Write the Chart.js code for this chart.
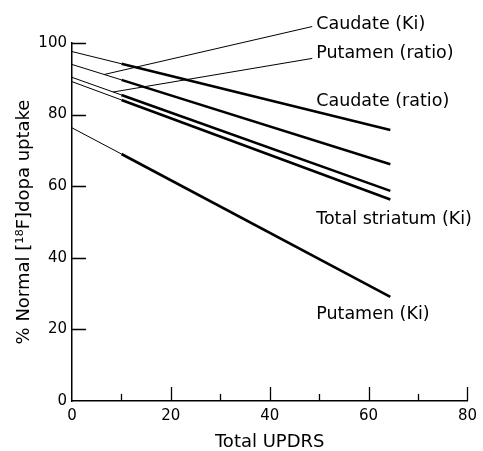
<!DOCTYPE html>
<html>
<head>
<meta charset="utf-8">
<script src="https://cdn.jsdelivr.net/npm/chart.js@4"></script>
<style>
  html, body { margin: 0; padding: 0; background: #fff; }
  #wrap { width: 483px; height: 451px; position: relative; }
</style>
</head>
<body>
<div id="wrap"><canvas id="uptakeChart"></canvas></div>
<script>
// Total UPDRS where each regression line is sampled (start, end of thin part, end)
var updrs = [0, 10, 64.4];

// % normal [18F]dopa uptake
var caudateRatio  = [97.6, 94.2, 75.7];
var caudateKi     = [94.0, 89.7, 66.1];
var putamenRatio  = [90.4, 85.5, 58.7];
var striatumKi    = [89.2, 84.1, 56.3];
var putamenKi     = [76.3, 69.0, 29.1];

var xTicks = [0, 20, 40, 60, 80];
var yTicks = [0, 20, 40, 60, 80, 100];

// leader lines from the label to its line (x, y pairs)
var leaderCaudateKi    = [[6.5, 91.2], [48.6, 104.6]];
var leaderPutamenRatio = [[8.3, 86.3], [48.6, 95.7]];

// text labels: [text, x, y] in data units
var lineLabels = [
    ['Caudate (Ki)', 49.4, 105.3],
    ['Putamen (ratio)', 49.4, 97.2],
    ['Caudate (ratio)', 49.4, 83.6],
    ['Total striatum (Ki)', 49.4, 50.8],
    ['Putamen (Ki)', 49.4, 24.2]
];

var FONT = '"DejaVu Sans", Arial, sans-serif';

function toPoints(ys) {
    return updrs.map(function (x, i) { return { x: x, y: ys[i] }; });
}

function regLine(ys) {
    return {
        data: toPoints(ys),
        borderColor: '#000',
        borderWidth: 2.6,
        pointRadius: 0,
        tension: 0,
        segment: {
            // thin part between 0 and 10, thick beyond
            borderWidth: function (ctx) { return ctx.p0DataIndex === 0 ? 1 : 2.6; }
        }
    };
}

function leader(pts) {
    return {
        data: pts.map(function (p) { return { x: p[0], y: p[1] }; }),
        borderColor: '#000',
        borderWidth: 1,
        pointRadius: 0,
        clip: false
    };
}

// ticks pointing into the plot + line labels
var innerTicks = {
    id: 'innerTicks',
    afterDatasetsDraw: function (chart) {
        var ctx = chart.ctx;
        var xs = chart.scales.x, ys = chart.scales.y;
        var area = chart.chartArea;
        ctx.save();
        ctx.strokeStyle = '#000';
        ctx.lineWidth = 1.3;
        ctx.beginPath();
        for (var v = 10; v <= 80; v += 10) {
            var px = Math.round(xs.getPixelForValue(v)) + 0.5;
            var len = v % 20 === 0 ? 14 : 7;
            ctx.moveTo(px, area.bottom);
            ctx.lineTo(px, area.bottom - len);
        }
        for (var w = 20; w <= 100; w += 20) {
            var py = Math.round(ys.getPixelForValue(w)) + 0.5;
            ctx.moveTo(area.left, py);
            ctx.lineTo(area.left + 14, py);
        }
        ctx.stroke();

        ctx.fillStyle = '#000';
        ctx.font = '17.5px ' + FONT;
        ctx.textAlign = 'left';
        ctx.textBaseline = 'middle';
        lineLabels.forEach(function (l) {
            ctx.fillText(l[0], xs.getPixelForValue(l[1]), ys.getPixelForValue(l[2]));
        });
        ctx.restore();
    }
};

var ctx = document.getElementById('uptakeChart').getContext('2d');
var chart = new Chart(ctx, {
    type: 'line',
    data: {
        datasets: [
            regLine(caudateRatio),
            regLine(caudateKi),
            regLine(putamenRatio),
            regLine(striatumKi),
            regLine(putamenKi),
            leader(leaderCaudateKi),
            leader(leaderPutamenRatio)
        ]
    },
    options: {
        responsive: true,
        maintainAspectRatio: false,
        animation: false,
        layout: { padding: { top: 43, right: 11, left: 0, bottom: 0 } },
        plugins: {
            legend: { display: false },
            tooltip: { enabled: false }
        },
        scales: {
            x: {
                type: 'linear',
                min: 0,
                max: 80,
                afterBuildTicks: function (s) { s.ticks = xTicks.map(function (v) { return { value: v }; }); },
                afterFit: function (s) { s.height = 50; },
                grid: { drawOnChartArea: false, drawTicks: false },
                border: { display: true, color: '#000', width: 1.5 },
                ticks: { color: '#000', padding: 6, maxRotation: 0, font: { family: FONT, size: 15 } },
                title: {
                    display: true,
                    text: 'Total UPDRS',
                    color: '#000',
                    padding: 0,
                    font: { family: FONT, size: 18, lineHeight: 1 }
                }
            },
            y: {
                type: 'linear',
                min: 0,
                max: 100,
                afterBuildTicks: function (s) { s.ticks = yTicks.map(function (v) { return { value: v }; }); },
                afterFit: function (s) { s.width = 72; },
                grid: { drawOnChartArea: false, drawTicks: false },
                border: { display: true, color: '#000', width: 1.5 },
                ticks: { color: '#000', padding: 5, font: { family: FONT, size: 15 } },
                title: {
                    display: true,
                    text: '% Normal [\u00b9\u2078F]dopa uptake',
                    color: '#000',
                    padding: { top: 14, bottom: 0 },
                    font: { family: FONT, size: 18, lineHeight: 1.2 }
                }
            }
        }
    },
    plugins: [innerTicks]
});
</script>
</body>
</html>
